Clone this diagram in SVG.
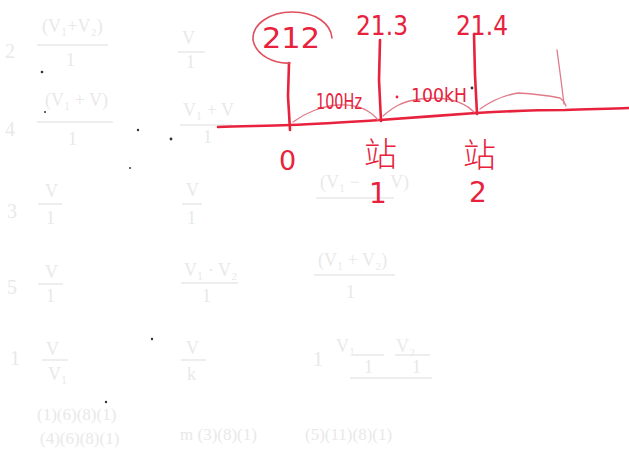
<svg xmlns="http://www.w3.org/2000/svg" width="629" height="452" viewBox="0 0 629 452">
<style>
.ink{fill:none;stroke:#e8213c;stroke-width:2.6;stroke-linecap:round;stroke-linejoin:round}
.thin{fill:none;stroke:#e07a88;stroke-width:1.3;stroke-linecap:round;stroke-linejoin:round}
.lbl{fill:#e8213c;font-family:"DejaVu Sans","Noto Sans CJK SC",sans-serif}
.cjk{fill:#e8213c;font-family:"Noto Sans CJK SC",sans-serif;font-weight:300}
.ghost{fill:#e9e9e9;font-family:"Liberation Serif",serif}
.gbar{stroke:#e9e9e9;stroke-width:1.5}
.dot{fill:#333}
</style>
<rect width="629" height="452" fill="#ffffff"/>
<g id="ghost">
<text class="ghost" x="5" y="58" font-size="20">2</text>
<text class="ghost" x="42" y="32" font-size="18">(V₁+V₂)</text>
<line class="gbar" x1="37" y1="45" x2="108" y2="45"/>
<text class="ghost" x="66" y="66" font-size="18">1</text>
<text class="ghost" x="182" y="44" font-size="18">V</text>
<line class="gbar" x1="178" y1="52" x2="205" y2="52"/>
<text class="ghost" x="186" y="68" font-size="18">1</text>
<text class="ghost" x="5" y="136" font-size="20">4</text>
<text class="ghost" x="45" y="106" font-size="18">(V₁ + V)</text>
<line class="gbar" x1="37" y1="122" x2="113" y2="122"/>
<text class="ghost" x="68" y="145" font-size="18">1</text>
<text class="ghost" x="183" y="116" font-size="18">V₁ + V</text>
<line class="gbar" x1="180" y1="125" x2="232" y2="125"/>
<text class="ghost" x="203" y="143" font-size="18">1</text>
<text class="ghost" x="7" y="218" font-size="20">3</text>
<text class="ghost" x="45" y="197" font-size="18">V</text>
<line class="gbar" x1="38" y1="204" x2="62" y2="204"/>
<text class="ghost" x="46" y="224" font-size="18">1</text>
<text class="ghost" x="186" y="196" font-size="18">V</text>
<line class="gbar" x1="182" y1="204" x2="202" y2="204"/>
<text class="ghost" x="187" y="224" font-size="18">1</text>
<text class="ghost" x="320" y="188" font-size="18">(V₁ −</text>
<text class="ghost" x="390" y="188" font-size="18">V)</text>
<line class="gbar" x1="316" y1="198" x2="394" y2="198"/>
<text class="ghost" x="7" y="294" font-size="20">5</text>
<text class="ghost" x="45" y="278" font-size="18">V</text>
<line class="gbar" x1="38" y1="284" x2="63" y2="284"/>
<text class="ghost" x="46" y="302" font-size="18">1</text>
<text class="ghost" x="184" y="276" font-size="18">V₁ · V₂</text>
<line class="gbar" x1="181" y1="283" x2="238" y2="283"/>
<text class="ghost" x="202" y="302" font-size="18">1</text>
<text class="ghost" x="318" y="266" font-size="18">(V₁ + V₂)</text>
<line class="gbar" x1="314" y1="275" x2="395" y2="275"/>
<text class="ghost" x="346" y="298" font-size="18">1</text>
<text class="ghost" x="10" y="365" font-size="20">1</text>
<text class="ghost" x="46" y="355" font-size="18">V</text>
<line class="gbar" x1="42" y1="360" x2="68" y2="360"/>
<text class="ghost" x="48" y="380" font-size="18">V₁</text>
<text class="ghost" x="186" y="354" font-size="18">V</text>
<line class="gbar" x1="181" y1="360" x2="206" y2="360"/>
<text class="ghost" x="187" y="380" font-size="18">k</text>
<text class="ghost" x="313" y="366" font-size="20">1</text>
<text class="ghost" x="336" y="352" font-size="18">V₁</text>
<line class="gbar" x1="353" y1="355" x2="384" y2="355"/>
<text class="ghost" x="364" y="373" font-size="18">1</text>
<text class="ghost" x="396" y="352" font-size="18">V₂</text>
<line class="gbar" x1="395" y1="355" x2="430" y2="355"/>
<text class="ghost" x="412" y="373" font-size="18">1</text>
<line class="gbar" x1="350" y1="378" x2="432" y2="378"/>
<text class="ghost" x="37" y="420" font-size="17">(1)(6)(8)(1)</text>
<text class="ghost" x="40" y="444" font-size="17">(4)(6)(8)(1)</text>
<text class="ghost" x="180" y="440" font-size="17">m (3)(8)(1)</text>
<text class="ghost" x="305" y="440" font-size="17">(5)(11)(8)(1)</text>
</g>
<g id="noise">
<circle class="dot" cx="42" cy="72" r="1.3"/>
<circle class="dot" cx="45" cy="112" r="1"/>
<circle class="dot" cx="138" cy="130" r="1.2"/>
<circle class="dot" cx="171" cy="139" r="1.4"/>
<circle class="dot" cx="130" cy="168" r="1"/>
<circle class="dot" cx="152" cy="339" r="1.2"/>
<circle class="dot" cx="106" cy="402" r="1.2"/>
<circle class="dot" cx="472" cy="88" r="1.4"/>
</g>
<g id="axis">
<path class="ink" d="M218,127 C240,126 265,126 290,125 C320,124 350,122 380,120 C410,118 445,115 476,113 C510,111 540,110 565,110 C590,109 610,109 629,108"/>
</g>
<g id="ticks">
<path class="ink" d="M289,63 L288,96 L290,130"/>
<path class="ink" d="M380,40 L379,80 L381,121"/>
<path class="ink" d="M474,34 L475,75 L477,114"/>
<path class="thin" d="M557,50 L561,80 L564,104"/>
</g>
<g id="arcs">
<path class="thin" d="M293,122 C305,113 322,106 338,105 C356,104 370,110 378,120"/>
<path class="thin" d="M383,116 C392,108 402,101 420,99 C440,97 460,98 474,112"/>
<path class="thin" d="M480,109 C490,102 505,95 518,93 C535,94 550,96 560,98 C563,100 565,103 566,106"/>
</g>
<g id="freq-labels">
<path class="thin" style="stroke:#e0505f;stroke-width:1.6" d="M290,63 C275,64 256,56 253,40 C252,24 270,12 292,12 C316,12 331,24 332,38"/>
<text class="lbl" x="262" y="48" font-size="29" textLength="58" lengthAdjust="spacingAndGlyphs">212</text>
<text class="lbl" x="356" y="35" font-size="27" textLength="52" lengthAdjust="spacingAndGlyphs">21.3</text>
<text class="lbl" x="456" y="35" font-size="27" textLength="52" lengthAdjust="spacingAndGlyphs">21.4</text>
<text class="lbl" x="316" y="109" font-size="22" textLength="46" lengthAdjust="spacingAndGlyphs">100Hz</text>
<circle cx="397" cy="97" r="1.4" fill="#e8213c"/>
<text class="lbl" x="411" y="102" font-size="19" textLength="56" lengthAdjust="spacingAndGlyphs">100kH</text>
</g>
<g id="station-0">
<text class="lbl" x="279" y="170" font-size="27">0</text>
</g>
<g id="station-1">
<text class="cjk" x="364" y="166" font-size="33">站</text>
<text class="lbl" x="369" y="203" font-size="28">1</text>
</g>
<g id="station-2">
<text class="cjk" x="463" y="167" font-size="33">站</text>
<text class="lbl" x="469" y="202" font-size="28">2</text>
</g>
</svg>
